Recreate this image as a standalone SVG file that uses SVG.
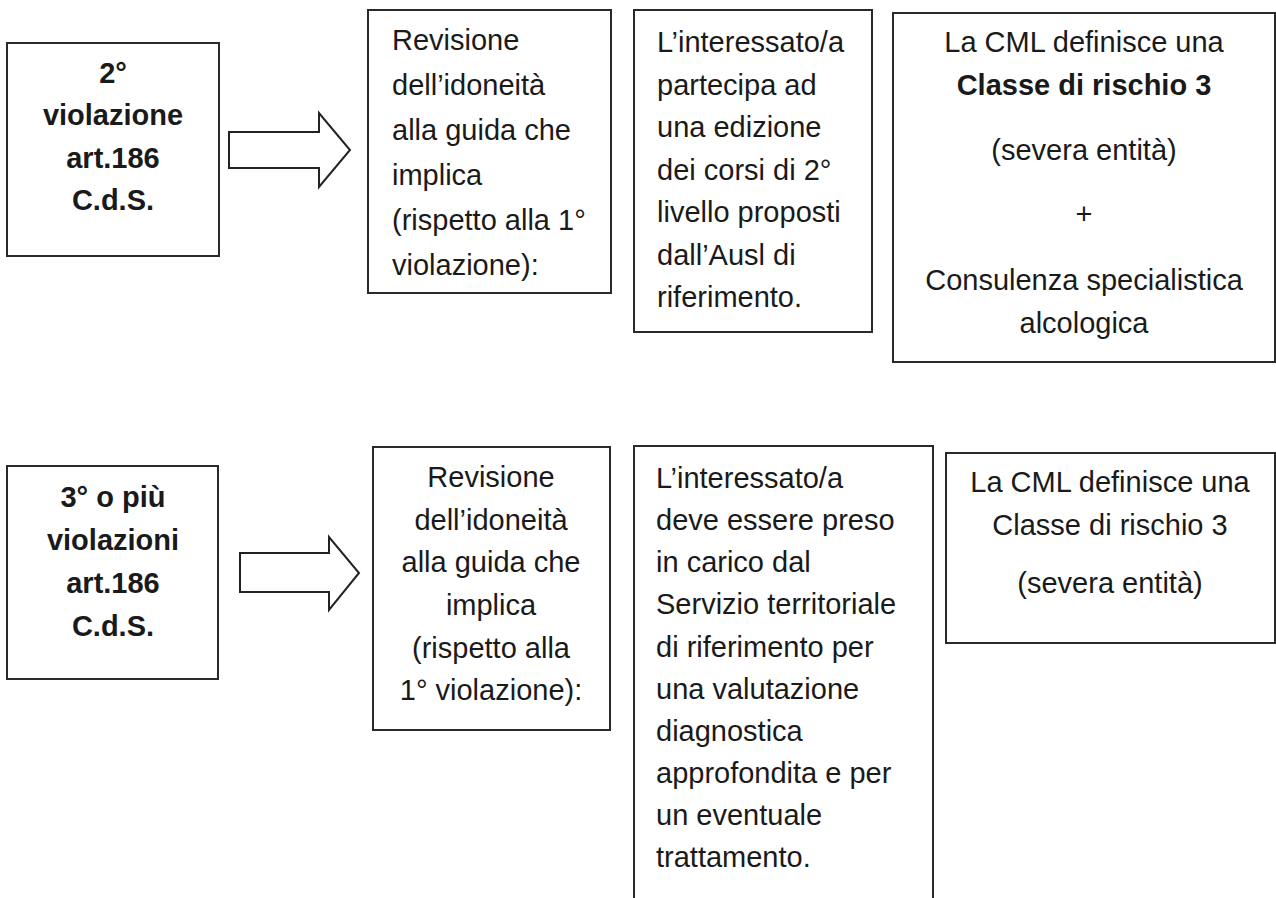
<svg xmlns="http://www.w3.org/2000/svg" width="1276" height="898" viewBox="0 0 1276 898">
<style>
.box{fill:#fff;stroke:#2a2a2a;stroke-width:2}
.arr{fill:#fff;stroke:#222;stroke-width:2;stroke-linejoin:miter}
text{font-family:"Liberation Sans",Arial,sans-serif;font-size:29px;fill:#1a1a1a}
.b{font-weight:bold}
.c{text-anchor:middle}
</style>
<rect width="1276" height="898" fill="#fff"/>
<g id="connectors">
<polygon class="arr" points="229,132 319,132 319,113 350,150 319,187 319,168 229,168"/>
<polygon class="arr" points="240,553 329,553 329,537 359,573 329,610 329,592 240,592"/>
</g>
<g id="n1">
<rect class="box" x="7" y="43" width="212" height="213"/>
<text class="b c" x="113" y="83">2°</text>
<text class="b c" x="113" y="125">violazione</text>
<text class="b c" x="113" y="168">art.186</text>
<text class="b c" x="113" y="210">C.d.S.</text>
</g>
<g id="n2">
<rect class="box" x="368" y="10" width="243" height="283"/>
<text x="392" y="50">Revisione</text>
<text x="392" y="95">dell’idoneità</text>
<text x="392" y="140">alla guida che</text>
<text x="392" y="185">implica</text>
<text x="392" y="230">(rispetto alla 1°</text>
<text x="392" y="275">violazione):</text>
</g>
<g id="n3">
<rect class="box" x="634" y="10" width="238" height="322"/>
<text x="657" y="52">L’interessato/a</text>
<text x="657" y="95">partecipa ad</text>
<text x="657" y="137">una edizione</text>
<text x="657" y="180">dei corsi di 2°</text>
<text x="657" y="222">livello proposti</text>
<text x="657" y="265">dall’Ausl di</text>
<text x="657" y="307">riferimento.</text>
</g>
<g id="n4">
<rect class="box" x="893" y="13" width="382" height="349"/>
<text class="c" x="1084" y="52">La CML definisce una</text>
<text class="b c" x="1084" y="95">Classe di rischio 3</text>
<text class="c" x="1084" y="160">(severa entità)</text>
<text class="c" x="1084" y="224">+</text>
<text class="c" x="1084" y="290">Consulenza specialistica</text>
<text class="c" x="1084" y="333">alcologica</text>
</g>
<g id="n5">
<rect class="box" x="7" y="466" width="211" height="213"/>
<text class="b c" x="113" y="507">3° o più</text>
<text class="b c" x="113" y="550">violazioni</text>
<text class="b c" x="113" y="593">art.186</text>
<text class="b c" x="113" y="636">C.d.S.</text>
</g>
<g id="n6">
<rect class="box" x="373" y="447" width="237" height="283"/>
<text class="c" x="491" y="487">Revisione</text>
<text class="c" x="491" y="530">dell’idoneità</text>
<text class="c" x="491" y="572">alla guida che</text>
<text class="c" x="491" y="615">implica</text>
<text class="c" x="491" y="658">(rispetto alla</text>
<text class="c" x="491" y="700">1° violazione):</text>
</g>
<g id="n7">
<rect class="box" x="634" y="446" width="299" height="460"/>
<text x="656" y="488">L’interessato/a</text>
<text x="656" y="530">deve essere preso</text>
<text x="656" y="572">in carico dal</text>
<text x="656" y="614">Servizio territoriale</text>
<text x="656" y="657">di riferimento per</text>
<text x="656" y="699">una valutazione</text>
<text x="656" y="741">diagnostica</text>
<text x="656" y="783">approfondita e per</text>
<text x="656" y="825">un eventuale</text>
<text x="656" y="867">trattamento.</text>
</g>
<g id="n8">
<rect class="box" x="946" y="453" width="329" height="190"/>
<text class="c" x="1110" y="492">La CML definisce una</text>
<text class="c" x="1110" y="535">Classe di rischio 3</text>
<text class="c" x="1110" y="593">(severa entità)</text>
</g>
</svg>
